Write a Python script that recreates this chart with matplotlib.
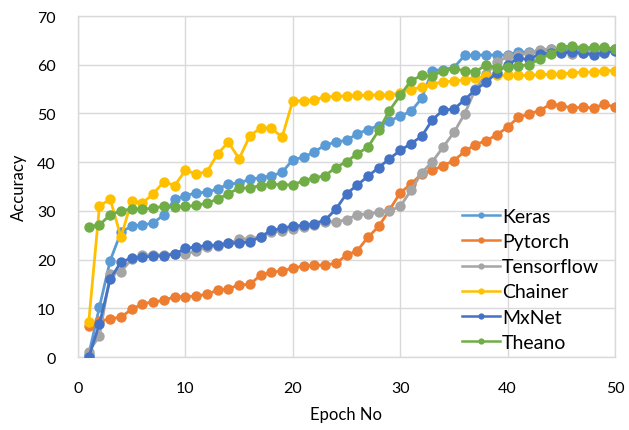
import matplotlib
matplotlib.use("Agg")
import matplotlib.pyplot as plt
from matplotlib.lines import Line2D

plt.rcParams['font.family'] = ['Lato', 'DejaVu Sans']

epochs = list(range(1, 51))

keras = [0.5, 10.3, 19.8, 25.6, 26.9, 27.1, 27.5, 29.2, 32.4, 33.1,
         33.7, 33.8, 34.5, 35.5, 35.7, 36.5, 36.8, 37.2, 37.9, 40.5,
         41.0, 42.1, 43.5, 44.1, 44.5, 45.8, 46.7, 47.5, 48.4, 49.5,
         50.4, 53.1, 58.8, 59.0, 59.4, 61.9, 62.0, 62.0, 62.0, 62.0,
         62.6, 62.6, 62.8, 63.2, 63.0, 63.2, 63.2, 63.3, 63.3, 63.3]

pytorch = [6.4, 7.4, 7.8, 8.2, 9.8, 10.9, 11.3, 11.6, 12.4, 12.4,
           12.5, 12.9, 13.7, 14.0, 14.8, 14.9, 16.8, 17.4, 17.7, 18.2,
           18.7, 18.8, 18.9, 19.2, 20.9, 21.8, 24.6, 26.8, 30.2, 33.7,
           35.5, 37.6, 38.3, 39.3, 40.3, 42.2, 43.6, 44.4, 45.6, 47.2,
           49.2, 49.9, 50.6, 51.9, 51.6, 51.1, 51.3, 51.1, 51.9, 51.3]

tensorflow = [1.0, 4.4, 17.0, 17.5, 20.1, 20.9, 21.0, 21.0, 21.2, 21.1,
              21.8, 22.5, 22.8, 23.3, 24.2, 24.3, 24.6, 25.6, 25.9, 26.3,
              26.6, 27.0, 27.8, 27.7, 28.2, 29.2, 29.4, 29.7, 30.0, 30.9,
              34.2, 37.8, 40.1, 43.1, 46.1, 49.9, 55.0, 58.0, 60.5, 61.7,
              62.0, 62.4, 63.1, 63.2, 62.7, 62.3, 62.4, 62.8, 62.6, 63.0]

chainer = [7.2, 31.0, 32.4, 24.6, 32.1, 31.6, 33.5, 36.0, 35.2, 38.3,
           37.6, 38.0, 41.7, 44.1, 40.7, 45.4, 47.0, 47.0, 45.1, 52.6,
           52.6, 52.8, 53.4, 53.5, 53.6, 53.7, 53.8, 53.8, 53.8, 54.2,
           54.9, 55.4, 56.1, 56.4, 56.7, 56.9, 57.3, 57.6, 57.8, 57.8,
           57.8, 57.8, 58.0, 58.0, 58.1, 58.3, 58.5, 58.5, 58.8, 58.8]

mxnet = [0.0, 6.8, 16.0, 19.5, 20.3, 20.5, 20.7, 20.8, 21.1, 22.3,
         22.6, 22.9, 23.0, 23.3, 23.5, 23.6, 24.7, 26.0, 26.4, 26.9,
         27.0, 27.4, 28.1, 30.3, 33.5, 35.3, 37.1, 38.9, 40.7, 42.4,
         43.8, 45.3, 48.7, 50.7, 50.9, 52.8, 54.9, 56.4, 58.4, 60.0,
         61.3, 61.1, 62.2, 62.4, 62.4, 62.6, 62.4, 62.0, 62.4, 62.9]

theano = [26.7, 27.1, 29.2, 30.0, 30.4, 30.4, 30.5, 31.0, 30.8, 30.9,
          31.1, 31.6, 32.4, 33.5, 34.7, 34.7, 35.2, 35.5, 35.4, 35.3,
          36.2, 36.8, 37.2, 38.9, 40.1, 41.7, 43.1, 46.5, 50.6, 53.7,
          56.7, 57.8, 57.7, 58.8, 59.1, 58.8, 58.5, 60.0, 59.3, 59.5,
          59.8, 60.0, 61.2, 62.2, 63.6, 63.9, 63.4, 63.6, 63.6, 63.2]

series_names = ['Keras', 'Pytorch', 'Tensorflow', 'Chainer', 'MxNet', 'Theano']
series_values = [keras, pytorch, tensorflow, chainer, mxnet, theano]
colors = ['#5B9BD5', '#ED7D31', '#A5A5A5', '#FFC000', '#4472C4', '#70AD47']

x_ticks = [0, 10, 20, 30, 40, 50]
y_ticks = [0, 10, 20, 30, 40, 50, 60, 70]

fig = plt.figure(figsize=(6.29, 4.31), dpi=100)
ax = fig.add_axes([78/629, 1-358/431, (615-78)/629, (358-17)/431])

for name, vals, c in zip(series_names, series_values, colors):
    ax.plot(epochs, vals, color=c, lw=2.0, marker='o', markersize=7.5,
            markeredgewidth=0, label=name, zorder=3)

ax.set_xlim(0, 50)
ax.set_ylim(0, 70)
ax.set_xticks(x_ticks)
ax.set_yticks(y_ticks)
ax.grid(True, color='#D9D9D9', lw=1.0, zorder=0)
for s in ax.spines.values():
    s.set_color('#D9D9D9')
    s.set_linewidth(1.0)
ax.tick_params(length=0, labelsize=11.5, colors='#000000')
ax.tick_params(axis='x', pad=17)
ax.tick_params(axis='y', pad=16)
ax.set_xlabel('Epoch No', fontsize=12)
ax.set_ylabel('Accuracy', fontsize=12)
ax.xaxis.set_label_coords(0.5, (358 - 407) / 341)
ax.yaxis.set_label_coords((27 - 78) / 537, 0.5)

handles = [Line2D([0], [0], color=c, lw=1.8, marker='o', markersize=4.5,
                  markeredgewidth=0) for c in colors]
fig.legend(handles, series_names, loc='upper left',
           bbox_to_anchor=(462/629, 1-209/431), frameon=False,
           fontsize=14, handlelength=1.95, handletextpad=0.1,
           labelspacing=0.42, borderpad=0, borderaxespad=0)

fig.savefig('out.png', dpi=100)
